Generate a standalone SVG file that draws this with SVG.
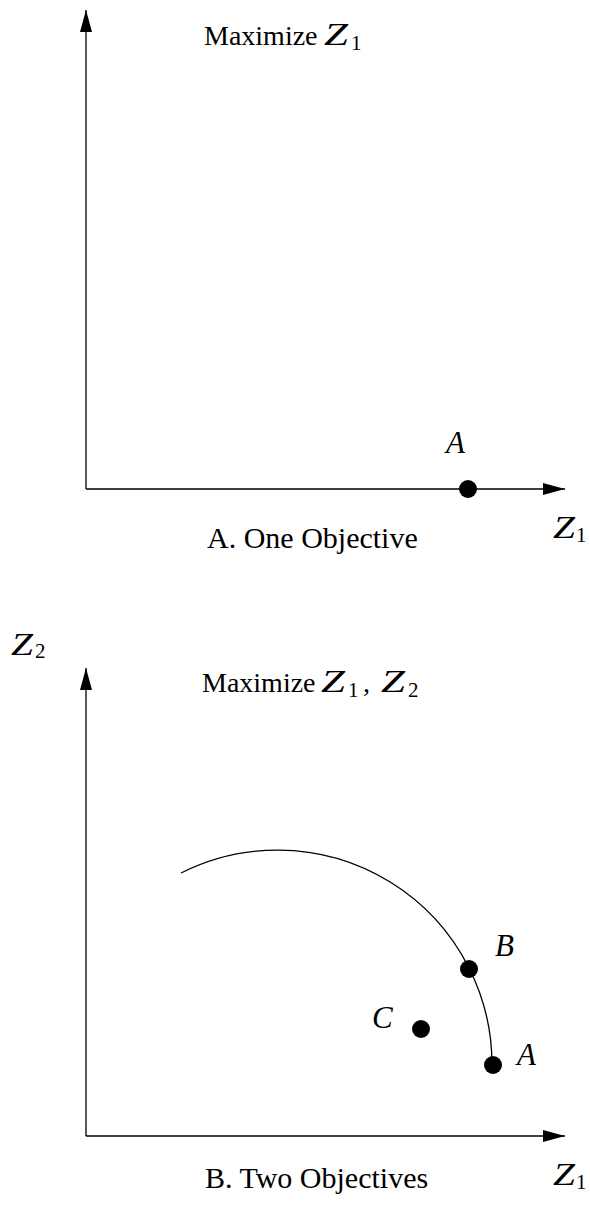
<svg xmlns="http://www.w3.org/2000/svg" width="590" height="1211" viewBox="0 0 590 1211">
<style>
.t{font-family:"Liberation Serif","Times New Roman",serif;font-size:28px;fill:#000}
.c{font-family:"Liberation Serif","Times New Roman",serif;font-size:30px;fill:#000}
.m{font-family:"Liberation Serif","Times New Roman",serif;font-size:31px;font-style:italic;fill:#000}
.s{font-family:"Liberation Serif","Times New Roman",serif;font-size:21px;fill:#000}
.ax{stroke:#000;stroke-width:1.3;fill:none}
.dot{fill:#000}
</style>
<defs>
<marker id="ah" markerWidth="22" markerHeight="12" refX="22" refY="6" orient="auto" markerUnits="userSpaceOnUse">
<path d="M0,0 L22,6 L0,12 Z" fill="#000"/>
</marker>
</defs>
<g id="connectors">
<path class="ax" d="M86,489 L86,10" marker-end="url(#ah)"/>
<path class="ax" d="M86,489 L565,489" marker-end="url(#ah)"/>
<path class="ax" d="M86,1136 L86,668" marker-end="url(#ah)"/>
<path class="ax" d="M86,1136 L565,1136" marker-end="url(#ah)"/>
<path id="front" class="ax" d="M181,873 A214.5,214.5 0 0 1 492,1065"/>
</g>
<g id="titleA">
<text class="t" x="204" y="45">Maximize</text>
<text class="m" x="324" y="45" textLength="24" lengthAdjust="spacingAndGlyphs">Z</text>
<text class="s" x="351" y="50">1</text>
</g>
<g id="nodeA1"><circle class="dot" cx="468" cy="489" r="9"/><text class="m" x="446" y="453">A</text></g>
<g id="axisZ1a">
<text class="m" x="553" y="538" textLength="22" lengthAdjust="spacingAndGlyphs">Z</text>
<text class="s" x="576" y="542">1</text>
</g>
<g id="captionA"><text class="c" x="207" y="548">A. One Objective</text></g>
<g id="axisZ2">
<text class="m" x="11" y="655" textLength="22" lengthAdjust="spacingAndGlyphs">Z</text>
<text class="s" x="35" y="658">2</text>
</g>
<g id="titleB">
<text class="t" x="202" y="692">Maximize</text>
<text class="m" x="321" y="692" textLength="24" lengthAdjust="spacingAndGlyphs">Z</text>
<text class="s" x="348" y="697">1</text>
<text class="t" x="363" y="692">,</text>
<text class="m" x="381" y="692" textLength="24" lengthAdjust="spacingAndGlyphs">Z</text>
<text class="s" x="408" y="697">2</text>
</g>
<g id="nodeB"><circle class="dot" cx="469" cy="969" r="9"/><text class="m" x="495" y="956">B</text></g>
<g id="nodeC"><circle class="dot" cx="421" cy="1029" r="9"/><text class="m" x="372" y="1028">C</text></g>
<g id="nodeA2"><circle class="dot" cx="493" cy="1065" r="9"/><text class="m" x="517" y="1065">A</text></g>
<g id="axisZ1b">
<text class="m" x="553" y="1185" textLength="22" lengthAdjust="spacingAndGlyphs">Z</text>
<text class="s" x="576" y="1189">1</text>
</g>
<g id="captionB"><text class="c" x="205" y="1188">B. Two Objectives</text></g>
</svg>
